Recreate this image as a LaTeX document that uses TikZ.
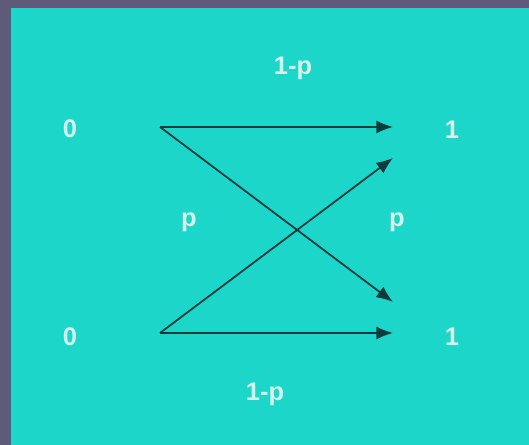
\documentclass[tikz,border=0pt]{standalone}
\usepackage{fontspec}
\setmainfont{Liberation Sans}
\usepackage{xcolor}
\usepackage{tikz}
\usetikzlibrary{arrows.meta}

\definecolor{slidebg}{HTML}{5F5A7A}
\definecolor{panel}{HTML}{1CD6C9}
\definecolor{symtext}{HTML}{D6F2EA}
\definecolor{wire}{HTML}{0B3B3B}

\begin{document}
\begin{tikzpicture}[
                symbol/.style={font=\fontsize{14.5}{16}\selectfont\bfseries, text=symtext},
                prob/.style={font=\fontsize{14.5}{16}\selectfont\bfseries, text=symtext},
                transition/.style={->, >={Latex[length=9.5pt,width=7.5pt]}, line width=1pt, draw=wire}
            ]
                % Fond
                \fill[slidebg] (0,0) rectangle (10.58,8.9);
                \fill[panel] (0.22,0) rectangle (10.58,8.74);
                \useasboundingbox (0,0) rectangle (10.58,8.9);

                % Symboles d'entree et de sortie
                \node[symbol] (X0) at (1.40,6.32) {0};
                \node[symbol] (X1) at (1.40,2.16) {0};
                \node[symbol] (Y0) at (9.04,6.30) {1};
                \node[symbol] (Y1) at (9.04,2.16) {1};

                % Extremites des fleches
                \coordinate (S0) at (3.20,6.36);
                \coordinate (S1) at (3.20,2.24);
                \coordinate (E0) at (7.86,6.36);
                \coordinate (E0d) at (7.86,5.74);
                \coordinate (E1d) at (7.86,2.86);
                \coordinate (E1) at (7.86,2.24);

                % Transitions
                \draw[transition] (S0) -- (E0);
                \draw[transition] (S0) -- (E1d);
                \draw[transition] (S1) -- (E0d);
                \draw[transition] (S1) -- (E1);

                % Probabilites
                \node[prob] (P00) at (5.86,7.54) {1-p};
                \node[prob] (P11) at (5.30,1.02) {1-p};
                \node[prob] (P10) at (3.78,4.46) {p};
                \node[prob] (P01) at (7.94,4.46) {p};
            \end{tikzpicture}
\end{document}
